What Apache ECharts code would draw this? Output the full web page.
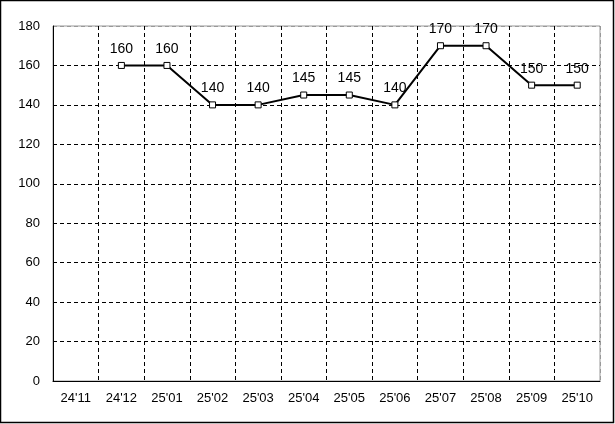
<!DOCTYPE html>
<html><head><meta charset="utf-8">
<script src="https://cdn.jsdelivr.net/npm/echarts@6/dist/echarts.min.js"></script>
<style>html,body{margin:0;padding:0;background:#fff}#c{width:615px;height:424px}</style>
</head><body><div id="c"></div>
<script>
var categories = ["24'11","24'12","25'01","25'02","25'03","25'04","25'05","25'06","25'07","25'08","25'09","25'10"];
var values = [null,160,160,140,140,145,145,140,170,170,150,150];
var yTicks = {min:0,max:180,interval:20};

var chart = echarts.init(document.getElementById('c'), null, {renderer:'canvas'});
var font = 'Liberation Sans, Arial, sans-serif';
var yColors = []; for (var i=0;i<10;i++) yColors.push(i===9?'#999':'#000');
var xColors = []; for (var j=0;j<13;j++) xColors.push(j===12?'#999':'#000');
chart.setOption({
  animation:false,
  backgroundColor:'#fff',
  graphic:[{type:'rect',shape:{x:0.5,y:0.5,width:613,height:422},style:{fill:'none',stroke:'#000',lineWidth:1.5},z:100}],
  grid:{left:53,top:26,right:15,bottom:43,show:true,borderColor:'#999',borderWidth:1,backgroundColor:'#fff'},
  xAxis:{type:'category',data:categories,boundaryGap:true,
    axisLine:{lineStyle:{color:'#000',width:1}},axisTick:{show:false},
    axisLabel:{color:'#000',fontSize:13,fontFamily:font,margin:11,interval:0},
    splitLine:{show:true,interval:0,lineStyle:{color:xColors,type:[4,3],width:1}}},
  yAxis:{type:'value',min:yTicks.min,max:yTicks.max,interval:yTicks.interval,
    axisLine:{show:true,lineStyle:{color:'#000',width:1}},axisTick:{show:false},
    axisLabel:{color:'#000',fontSize:13,fontFamily:font,margin:13},
    splitLine:{show:true,lineStyle:{color:yColors,type:[4,3],width:1}}},
  series:[{type:'line',data:values,connectNulls:false,
    lineStyle:{color:'#000',width:2},
    symbol:'rect',symbolSize:6,showAllSymbol:true,
    itemStyle:{color:'#fff',borderColor:'#000',borderWidth:1},
    label:{show:true,position:'top',distance:6,color:'#000',fontSize:14,fontFamily:font}}]
});
</script></body></html>
